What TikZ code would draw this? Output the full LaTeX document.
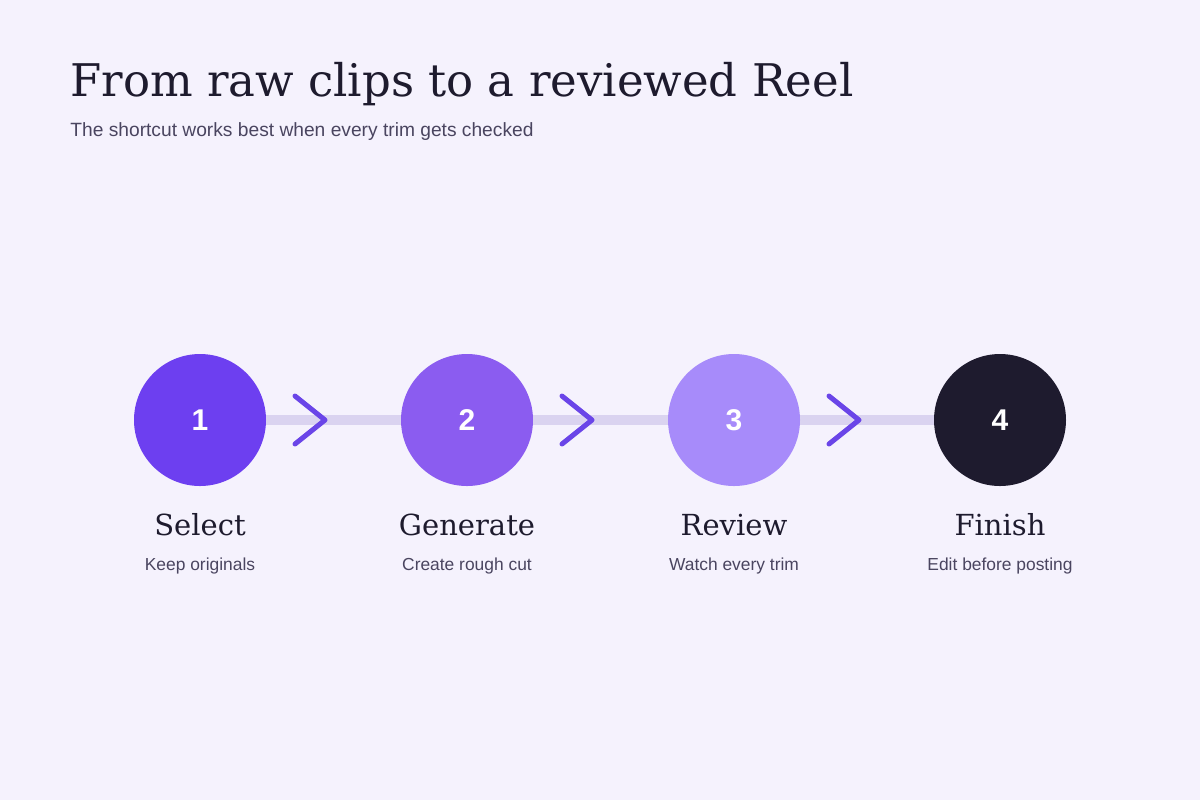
\documentclass[tikz,border=0pt]{standalone}
\usepackage{fontspec}
\setmainfont{DejaVu Serif}
\setsansfont{Liberation Sans}
\usetikzlibrary{positioning}
\definecolor{bgColor}{HTML}{F5F2FD}
\definecolor{inkColor}{HTML}{1E1B2E}
\definecolor{subColor}{HTML}{4A4560}
\definecolor{trackColor}{HTML}{DAD3F0}
\definecolor{arrColor}{HTML}{6A45E8}
\definecolor{oneColor}{HTML}{6D3FF0}
\definecolor{twoColor}{HTML}{8B5CF0}
\definecolor{threeColor}{HTML}{A78BFA}
\definecolor{fourColor}{HTML}{1E1B2E}
\tikzset{
	stage/.style={circle, minimum size=66pt, inner sep=0, text=white, font=\sffamily\bfseries\fontsize{15}{18}\selectfont},
	stagetitle/.style={text=inkColor, font=\fontsize{14.5}{17}\selectfont, inner sep=0},
	stagenote/.style={text=subColor, font=\sffamily\fontsize{8.7}{10}\selectfont, inner sep=0},
	chevron/.style={draw=arrColor, line width=2.5pt, line cap=round, line join=round}
}
\begin{document}
\begin{tikzpicture}[x=0.5pt,y=-0.5pt]
	\fill[bgColor] (0,0) rectangle (1200,800);
	\useasboundingbox (0,0) rectangle (1200,800);
	\node[anchor=base west, inner sep=0, text=inkColor, font=\fontsize{22.5}{26}\selectfont] (title) at (70,96) {From raw clips to a reviewed Reel};
	\node[anchor=base west, inner sep=0, text=subColor, font=\sffamily\fontsize{9.6}{12}\selectfont] (subtitle) at (70,136) {The shortcut works best when every trim gets checked};
	% track
	\draw[trackColor, line width=5pt] (200,420) -- (1000,420);
	\node[stage, fill=oneColor] (s1) at (200,420) {1};
	\node[stage, fill=twoColor] (s2) at (467,420) {2};
	\node[stage, fill=threeColor] (s3) at (734,420) {3};
	\node[stage, fill=fourColor] (s4) at (1000,420) {4};
	\foreach \x in {295,562,829}
		\draw[chevron] (\x,396) -- ++(30,24) -- ++(-30,24);
	% labels
	\foreach \n/\t/\s in {1/Select/Keep originals, 2/Generate/Create rough cut, 3/Review/Watch every trim, 4/Finish/Edit before posting}{
		\node[stagetitle, anchor=base] (t\n) at (s\n.center |- 0,535) {\t};
		\node[stagenote, anchor=base] (n\n) at (s\n.center |- 0,570) {\s};
	}
\end{tikzpicture}
\end{document}
